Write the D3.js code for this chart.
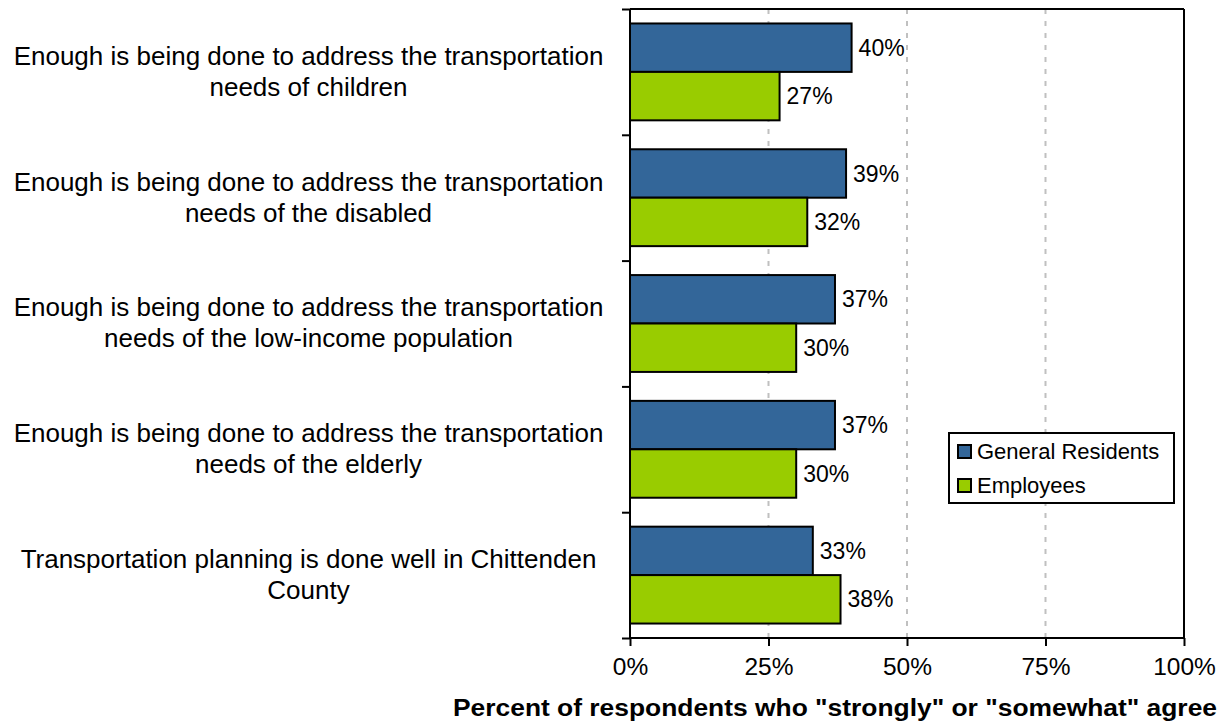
<!DOCTYPE html>
<html><head><meta charset="utf-8">
<script src="https://cdn.jsdelivr.net/npm/d3@7"></script>
<style>body{margin:0;background:#fff;} svg{display:block;font-family:"Liberation Sans",Arial,sans-serif;}</style>
</head><body>
<svg id="chart" width="1225" height="721"></svg>
<script>
const categories = [
  ["Enough is being done to address the transportation", "needs of children"],
  ["Enough is being done to address the transportation", "needs of the disabled"],
  ["Enough is being done to address the transportation", "needs of the low-income population"],
  ["Enough is being done to address the transportation", "needs of the elderly"],
  ["Transportation planning is done well in Chittenden", "County"]
];
const seriesNames = ["General Residents", "Employees"];
const generalResidents = [40, 39, 37, 37, 33];
const employees = [27, 32, 30, 30, 38];
const xTicks = [0, 25, 50, 75, 100];
const colors = ["#336699", "#99CC00"];

const svg = d3.select("#chart");
const L = 630, R = 1184, T = 9, B = 638;
const x = d3.scaleLinear().domain([0, 100]).range([L, R]);
const y = d3.scaleBand().domain(d3.range(categories.length)).range([T, B]).paddingInner(0.23).paddingOuter(0.115);
const sub = d3.scaleBand().domain([0, 1]).range([0, y.bandwidth()]);

// gridlines
svg.append("g").selectAll("line").data([25, 50, 75]).join("line")
  .attr("x1", d => x(d)).attr("x2", d => x(d)).attr("y1", T).attr("y2", B)
  .attr("stroke", "#c0c0c0").attr("stroke-width", 2).attr("stroke-dasharray", "5,7");

// frame top and right
svg.append("line").attr("x1", L).attr("x2", R).attr("y1", T).attr("y2", T).attr("stroke", "#000").attr("stroke-width", 2);
svg.append("line").attr("x1", R).attr("x2", R).attr("y1", T).attr("y2", B).attr("stroke", "#000").attr("stroke-width", 2);

// bars
const data = [generalResidents, employees];
data.forEach((vals, si) => {
  const g = svg.append("g");
  g.selectAll("rect").data(vals).join("rect")
    .attr("x", x(0)).attr("y", (d, i) => y(i) + sub(si))
    .attr("width", d => x(d) - x(0)).attr("height", sub.bandwidth())
    .attr("fill", colors[si]).attr("stroke", "#000").attr("stroke-width", 2);
  g.selectAll("text").data(vals).join("text")
    .attr("x", d => x(d) + 7).attr("y", (d, i) => y(i) + sub(si) + sub.bandwidth() / 2)
    .attr("dy", "0.35em").attr("font-size", 23).attr("fill", "#000")
    .text(d => d + "%");
});

// y axis
const yAxisScale = d3.scaleLinear().domain([0, categories.length]).range([T, B]);
svg.append("g").attr("transform", `translate(${L},0)`)
  .call(d3.axisLeft(yAxisScale).tickValues(d3.range(categories.length + 1)).tickSize(8).tickFormat(""))
  .call(g => g.selectAll("line,path").attr("stroke", "#000").attr("stroke-width", 2))
  .call(g => g.select(".domain").attr("d", `M0,${T}V${B}`));

// category labels
const cl = svg.append("g");
categories.forEach((lines, i) => {
  const cy = y(i) + y.bandwidth() / 2;
  const t = cl.append("text").attr("text-anchor", "middle").attr("font-size", 26).attr("fill", "#000");
  lines.forEach((ln, j) => {
    t.append("tspan").attr("x", 308.5).attr("y", cy + (j - (lines.length - 1) / 2) * 31).attr("dy", "0.32em").text(ln);
  });
});

// x axis
svg.append("g").attr("transform", `translate(0,${B})`)
  .call(d3.axisBottom(x).tickValues(xTicks).tickSize(8).tickPadding(12).tickFormat(d => d + "%"))
  .call(g => g.selectAll("line,path").attr("stroke", "#000").attr("stroke-width", 2))
  .call(g => g.select(".domain").attr("d", `M${L},0H${R}`))
  .call(g => g.selectAll("text").attr("font-size", 24.5).attr("fill", "#000").attr("font-family", "Liberation Sans, Arial, sans-serif"));

svg.append("text").attr("x", 835).attr("y", 716).attr("text-anchor", "middle")
  .attr("font-size", 23.5).attr("font-weight", "bold").attr("fill", "#000")
  .attr("textLength", 764).attr("lengthAdjust", "spacingAndGlyphs")
  .text('Percent of respondents who "strongly" or "somewhat" agree');

// legend
const lg = svg.append("g").attr("transform", "translate(949,433)");
lg.append("rect").attr("width", 225).attr("height", 70).attr("fill", "#fff").attr("stroke", "#000").attr("stroke-width", 2);
seriesNames.forEach((n, i) => {
  lg.append("rect").attr("x", 9).attr("y", 12 + i * 34).attr("width", 13).attr("height", 13)
    .attr("fill", colors[i]).attr("stroke", "#000").attr("stroke-width", 2);
  lg.append("text").attr("x", 28).attr("y", 18 + i * 34).attr("dy", "0.35em").attr("font-size", 22).text(n);
});
</script>
</body></html>
